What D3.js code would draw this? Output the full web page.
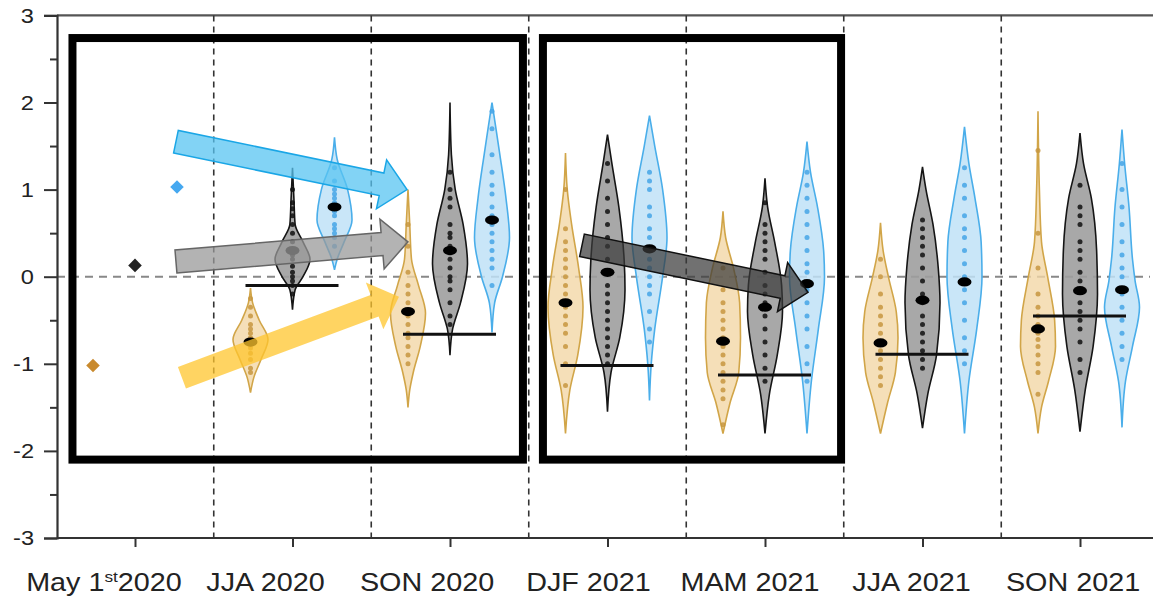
<!DOCTYPE html>
<html><head><meta charset="utf-8">
<script src="https://cdn.jsdelivr.net/npm/d3@7"></script>
<style>body{margin:0;background:#fff}svg{display:block}text{font-family:Arial,"Liberation Sans",sans-serif;fill:#222}</style>
</head><body><svg id="c" width="1153" height="600"></svg>
<script>
// ---------- data ----------
const categories = ["May 1st2020","JJA 2020","SON 2020","DJF 2021","MAM 2021","JJA 2021","SON 2021"];
const seriesNames = ["gold","black","blue"];
const yTicks = [-3,-2,-1,0,1,2,3];
const yMinorTicks = [-2.5,-1.5,-0.5,0.5,1.5,2.5];
// May 1st 2020 initial values (diamonds)
const initialValues = [-1.02, 0.13, 1.03];
// reference (black horizontal) lines per season, index 1..6
const refLines = [null, -0.10, -0.66, -1.02, -1.13, -0.89, -0.45];
// means (black ellipses) per season [gold, black, blue]
const means = [null,
  [-0.75, 0.30, 0.80],
  [-0.40, 0.30, 0.65],
  [-0.30, 0.05, 0.32],
  [-0.74, -0.35, -0.08],
  [-0.76, -0.27, -0.06],
  [-0.60, -0.16, -0.15]];
// violin density profiles: [value, relative density]
const profiles = [null,
  [ [[-0.13,0],[-0.3,0.12],[-0.5,0.5],[-0.72,1],[-0.95,0.6],[-1.15,0.2],[-1.33,0]],
    [[1.25,0],[0.9,0.08],[0.6,0.15],[0.4,0.6],[0.2,1],[0.0,0.6],[-0.15,0.15],[-0.38,0]],
    [[1.6,0],[1.35,0.15],[1.0,0.75],[0.65,1],[0.4,0.55],[0.2,0.15],[0.08,0]] ],
  [ [[1.0,0],[0.6,0.1],[0.2,0.2],[-0.1,0.6],[-0.42,1],[-0.8,0.7],[-1.1,0.3],[-1.3,0.1],[-1.5,0]],
    [[2.0,0],[1.4,0.08],[1.0,0.3],[0.6,0.75],[0.15,1],[-0.3,0.6],[-0.6,0.15],[-0.9,0]],
    [[2.0,0],[1.8,0.15],[1.4,0.45],[0.9,0.8],[0.45,1],[0.0,0.6],[-0.3,0.15],[-0.64,0]] ],
  [ [[1.42,0],[1.0,0.1],[0.6,0.35],[0.1,0.75],[-0.35,1],[-0.9,0.7],[-1.3,0.25],[-1.8,0]],
    [[1.63,0],[1.3,0.25],[0.8,0.65],[0.2,0.95],[-0.15,1],[-0.7,0.7],[-1.1,0.2],[-1.55,0]],
    [[1.85,0],[1.5,0.3],[1.0,0.75],[0.45,1],[0.0,0.75],[-0.6,0.3],[-1.0,0.1],[-1.42,0]] ],
  [ [[0.75,0],[0.45,0.15],[0.1,0.6],[-0.3,0.95],[-0.7,1],[-1.1,0.9],[-1.45,0.4],[-1.8,0]],
    [[1.13,0],[0.8,0.15],[0.4,0.55],[-0.1,0.95],[-0.4,1],[-0.9,0.7],[-1.35,0.25],[-1.8,0]],
    [[1.55,0],[1.2,0.2],[0.8,0.6],[0.3,0.95],[0.0,1],[-0.6,0.65],[-1.2,0.25],[-1.8,0]] ],
  [ [[0.62,0],[0.3,0.15],[0.0,0.45],[-0.4,0.9],[-0.7,1],[-1.1,0.85],[-1.45,0.4],[-1.8,0]],
    [[1.26,0],[1.0,0.2],[0.6,0.6],[0.1,0.9],[-0.3,1],[-0.9,0.8],[-1.35,0.3],[-1.74,0]],
    [[1.72,0],[1.3,0.25],[0.9,0.6],[0.4,0.95],[0.0,1],[-0.6,0.7],[-1.2,0.25],[-1.8,0]] ],
  [ [[1.9,0],[1.0,0.08],[0.4,0.2],[0.0,0.55],[-0.5,0.95],[-0.8,1],[-1.2,0.6],[-1.5,0.2],[-1.8,0]],
    [[1.65,0],[1.3,0.2],[0.9,0.65],[0.3,0.95],[-0.2,1],[-0.8,0.75],[-1.3,0.3],[-1.78,0]],
    [[1.69,0],[1.3,0.15],[0.8,0.4],[0.2,0.6],[-0.05,0.75],[-0.35,1],[-0.8,0.6],[-1.2,0.2],[-1.73,0]] ]
];
// ensemble member dots per violin
const members = [null,
  [ [-0.25,-0.35,-0.45,-0.55,-0.6,-0.65,-0.7,-0.78,-0.82,-0.88,-0.95,-1.05,-1.1],
    [1.0,0.85,0.78,0.7,0.6,0.5,0.4,0.3,0.25,0.2,0.12,0.05,0.0,-0.05,-0.1,-0.2],
    [1.25,1.1,1.0,0.95,0.9,0.85,0.75,0.7,0.6,0.55,0.5,0.45,0.35] ],
  [ [0.6,0.35,0.05,-0.1,-0.2,-0.3,-0.45,-0.55,-0.65,-0.7,-0.8,-0.9,-1.0],
    [1.2,1.0,0.9,0.8,0.6,0.5,0.45,0.35,0.2,0.1,0.0,-0.05,-0.15,-0.3,-0.45,-0.55],
    [1.9,1.7,1.4,1.2,1.05,0.95,0.8,0.7,0.6,0.5,0.4,0.3,0.2,0.1,-0.1] ],
  [ [1.0,0.55,0.4,0.3,0.2,0.1,0.0,-0.1,-0.2,-0.35,-0.45,-0.55,-0.65,-0.8,-1.0,-1.25],
    [1.3,1.1,0.9,0.75,0.6,0.45,0.35,0.2,0.05,-0.1,-0.2,-0.3,-0.4,-0.5,-0.6,-0.7,-0.8,-0.9,-1.0],
    [1.2,1.1,1.0,0.8,0.7,0.55,0.45,0.3,0.2,0.1,0.0,-0.1,-0.2,-0.4,-0.6,-0.75] ],
  [ [0.1,-0.15,-0.3,-0.4,-0.5,-0.6,-0.7,-0.8,-0.9,-1.0,-1.1,-1.2,-1.3,-1.4,-1.7],
    [0.85,0.6,0.5,0.4,0.3,0.2,0.05,-0.1,-0.2,-0.3,-0.45,-0.6,-0.75,-0.9,-1.05,-1.2],
    [1.2,1.05,0.9,0.75,0.6,0.45,0.3,0.15,0.05,-0.15,-0.3,-0.45,-0.6,-0.8,-1.0,-1.2] ],
  [ [0.2,0.0,-0.2,-0.35,-0.45,-0.55,-0.65,-0.75,-0.85,-0.95,-1.05,-1.15,-1.25],
    [0.65,0.55,0.45,0.35,0.25,0.1,-0.05,-0.2,-0.3,-0.45,-0.55,-0.65,-0.75,-0.85,-0.95,-1.05],
    [1.25,1.05,0.9,0.7,0.55,0.45,0.3,0.15,0.0,-0.15,-0.3,-0.5,-0.7,-0.85,-1.0] ],
  [ [1.45,0.5,0.1,-0.2,-0.35,-0.45,-0.55,-0.65,-0.72,-0.8,-0.9,-1.0,-1.1,-1.35],
    [1.05,0.8,0.7,0.6,0.4,0.3,0.2,0.05,-0.05,-0.15,-0.3,-0.4,-0.5,-0.6,-0.75,-0.95,-1.1],
    [1.3,1.0,0.8,0.6,0.4,0.25,0.1,0.0,-0.2,-0.35,-0.5,-0.65,-0.8,-0.95] ]
];
// annotation arrows in data coords: [x0 (category index), y0, x1, y1, colour key]
const arrows = [
  [0.26, 1.55, 1.727, 1.00, "blue"],
  [0.26, 0.175, 1.733, 0.40, "gray"],
  [0.298, -1.16, 1.676, -0.23, "gold"],
  [2.838, 0.36, 4.273, -0.18, "dark"]
];
// annotation boxes in data coords: [x0, y0, x1, y1]
const boxes = [
  [-0.397, 2.74, 2.463, -2.10],
  [2.59, 2.74, 4.483, -2.10]
];

// ---------- styles ----------
const violinStyle = {
  gold:  {fill:"#f2d7a6", fillOp:0.8, stroke:"#d1a548", dot:"#c79640"},
  black: {fill:"#9e9e9e", fillOp:0.9, stroke:"#151515", dot:"#111"},
  blue:  {fill:"#bfe2f7", fillOp:0.85, stroke:"#4aaeea", dot:"#45a5e6"}
};
const diamondColor = {gold:"#c98a2e", black:"#222", blue:"#45a8f0"};
const arrowStyle = {
  blue: {fill:"#58c4f2", op:0.75, stroke:"#1aa6e6"},
  gray: {fill:"#999", op:0.75, stroke:"#666"},
  gold: {fill:"#ffc62e", op:0.75, stroke:"none"},
  dark: {fill:"#3a3a3a", op:0.72, stroke:"#111"}
};

const svg = d3.select("#c");
const W = 1153;
const x = d3.scaleLinear().domain([0, 6]).range([135, 1080]);
const y = d3.scaleLinear().domain([-3, 3]).range([538, 15.4]);
const xLeft = 57;
const offset = 42;      // px offset of series within a season
const halfW = 17.5;     // max half-width of a violin
const wScale = d3.scaleLinear().domain([0, 1]).range([0, halfW]).clamp(true);

// frame: top line
svg.append("line").attr("x1", xLeft).attr("x2", W).attr("y1", y(3)).attr("y2", y(3))
  .attr("stroke", "#555").attr("stroke-width", 2.2);

// vertical dashed separators
d3.range(6).forEach(i => {
  const xx = (x(i) + x(i + 1)) / 2;
  svg.append("line").attr("x1", xx).attr("x2", xx).attr("y1", y(3)).attr("y2", y(-3))
    .attr("stroke", "#333").attr("stroke-width", 1.6).attr("stroke-dasharray", "6,5");
});
// zero dashed line
svg.append("line").attr("x1", xLeft).attr("x2", W - 3).attr("y1", y(0)).attr("y2", y(0))
  .attr("stroke", "#888").attr("stroke-width", 2).attr("stroke-dasharray", "8,6");

// y axis
const yAxis = d3.axisLeft(y).tickValues(yTicks).tickSize(13).tickFormat("");
const gy = svg.append("g").attr("transform", `translate(${xLeft},0)`).call(yAxis);
gy.select(".domain").attr("stroke", "#333").attr("stroke-width", 2.2);
gy.selectAll(".tick line").attr("stroke", "#333").attr("stroke-width", 2);
const gyMinor = svg.append("g").attr("transform", `translate(${xLeft},0)`)
  .call(d3.axisLeft(y).tickValues(yMinorTicks).tickSize(7).tickFormat(""));
gyMinor.select(".domain").remove();
gyMinor.selectAll(".tick line").attr("stroke", "#333").attr("stroke-width", 2);
yTicks.forEach(v => {
  svg.append("text").attr("transform", `translate(34,${y(v)}) scale(1.18,1)`)
    .attr("text-anchor", "end").attr("dy", "0.36em").style("font-size", "20px").text(v);
});

// x axis
svg.append("line").attr("x1", xLeft).attr("x2", W).attr("y1", y(-3)).attr("y2", y(-3))
  .attr("stroke", "#333").attr("stroke-width", 2.2);
const gx = svg.append("g").attr("transform", `translate(0,${y(-3)})`)
  .call(d3.axisBottom(x).tickValues(d3.range(7)).tickSize(9).tickFormat(""));
gx.select(".domain").remove();
gx.selectAll(".tick line").attr("stroke", "#333").attr("stroke-width", 2);
categories.forEach((c, i) => {
  const t = svg.append("text")
    .attr("transform", `translate(${x(i) - 31 + 4 * i},591) scale(1.15,1)`)
    .attr("text-anchor", "middle").style("font-size", "25px");
  const m = c.match(/^(.*\d)(st)(\d{4})$/);
  if (m) {
    t.append("tspan").text(m[1]);
    t.append("tspan").attr("dy", -9).style("font-size", "15px").text(m[2]);
    t.append("tspan").attr("dy", 9).text(m[3]);
  } else t.text(c);
});

// initial diamonds
seriesNames.forEach((s, k) => {
  svg.append("path")
    .attr("d", d3.symbol().type(d3.symbolSquare).size(92)())
    .attr("transform", `translate(${x(0) + (k - 1) * offset},${y(initialValues[k])}) rotate(45)`)
    .attr("fill", diamondColor[s]);
});

// violins
const gv = svg.append("g");
for (let i = 1; i < categories.length; i++) {
  seriesNames.forEach((s, k) => {
    const cx = x(i) + (k - 1) * offset;
    const st = violinStyle[s];
    const area = d3.area()
      .y(d => y(d[0]))
      .x0(d => cx - wScale(d[1]))
      .x1(d => cx + wScale(d[1]))
      .curve(d3.curveMonotoneY);
    gv.append("path").attr("d", area(profiles[i][k]))
      .attr("fill", st.fill).attr("fill-opacity", st.fillOp)
      .attr("stroke", st.stroke).attr("stroke-width", 1.6);
    gv.selectAll(null).data(members[i][k]).enter().append("circle")
      .attr("cx", cx).attr("cy", d => y(d)).attr("r", 2.5)
      .attr("fill", st.dot).attr("opacity", 0.85);
    gv.append("ellipse").attr("cx", cx).attr("cy", y(means[i][k]))
      .attr("rx", 7).attr("ry", 4.6).attr("fill", "#000");
  });
  gv.append("line").attr("x1", x(i) - offset - 5).attr("x2", x(i) + offset + 4)
    .attr("y1", y(refLines[i])).attr("y2", y(refLines[i]))
    .attr("stroke", "#111").attr("stroke-width", 3);
}

// arrows
function arrowPath(x0, y0, x1, y1) {
  const dx = x1 - x0, dy = y1 - y0, L = Math.hypot(dx, dy);
  const ux = dx / L, uy = dy / L, nx = -uy, ny = ux;
  const sw = 11.5, hw = 25, hl = 26;
  const bx = x1 - ux * hl, by = y1 - uy * hl;
  const p = [
    [x0 + nx * sw, y0 + ny * sw], [bx + nx * sw, by + ny * sw], [bx + nx * hw, by + ny * hw],
    [x1, y1], [bx - nx * hw, by - ny * hw], [bx - nx * sw, by - ny * sw], [x0 - nx * sw, y0 - ny * sw]
  ];
  return "M" + p.map(q => q.join(",")).join("L") + "Z";
}
arrows.forEach(a => {
  const st = arrowStyle[a[4]];
  svg.append("path").attr("d", arrowPath(x(a[0]), y(a[1]), x(a[2]), y(a[3])))
    .attr("fill", st.fill).attr("fill-opacity", st.op)
    .attr("stroke", st.stroke).attr("stroke-width", 1.5).attr("stroke-linejoin", "miter");
});

// boxes
boxes.forEach(b => {
  svg.append("rect").attr("x", x(b[0])).attr("y", y(b[1]))
    .attr("width", x(b[2]) - x(b[0])).attr("height", y(b[3]) - y(b[1]))
    .attr("fill", "none").attr("stroke", "#000").attr("stroke-width", 8);
});
</script></body></html>
